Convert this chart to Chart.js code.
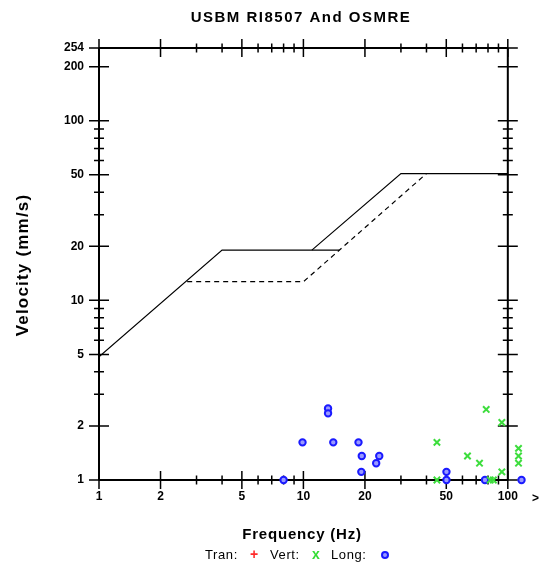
<!DOCTYPE html>
<html>
<head>
<meta charset="utf-8">
<script src="https://cdn.jsdelivr.net/npm/chart.js@4.4.0/dist/chart.umd.min.js"></script>
<style>
  html, body { margin: 0; padding: 0; background: #fff; }
  #cntr { position: relative; width: 540px; height: 567px; }
</style>
</head>
<body>
<div id="cntr"><canvas id="myChart" width="540" height="567"></canvas></div>
<script>
// Limites USBM RI8507 y OSMRE (frecuencia Hz, velocidad mm/s)
const limite1Freq = [1, 4, 15];
const limite1Vel = [4.85, 19.05, 19.05];
const limite2Freq = [11, 30, 100];
const limite2Vel = [19.05, 50.8, 50.8];
const limiteYesoFreq = [2.7, 10, 40];
const limiteYesoVel = [12.7, 12.7, 50.8];

// Registros medidos
const tranFreq = [];
const tranVel = [];
const vertFreq = [112.8, 112.8, 112.8, 45, 45, 63.5, 72.7, 78.4, 82, 85, 93.5, 93.5];
const vertVel = [1.5, 1.36, 1.24, 1.62, 1.0, 1.36, 1.24, 2.47, 1.0, 1.0, 2.09, 1.11];
const longFreq = [116.7, 8, 9.9, 13.2, 13.2, 14.0, 18.6, 19.3, 19.2, 22.7, 23.5, 50.1, 50.1, 77.3];
const longVel = [1.0, 1.0, 1.62, 2.5, 2.35, 1.62, 1.62, 1.36, 1.11, 1.24, 1.36, 1.11, 1.0, 1.0];

// Marcas de los ejes
const ejeXMayor = [1, 2, 5, 10, 20, 50, 100];
const ejeXMenor = [3, 4, 6, 7, 8, 9, 30, 40, 60, 70, 80, 90];
const ejeYMayor = [1, 2, 5, 10, 20, 50, 100, 200, 254];
const ejeYMenor = [3, 4, 6, 7, 8, 9, 30, 40, 60, 70, 80, 90];

const titulo = 'USBM RI8507 And OSMRE';
const tituloX = 'Frequency (Hz)';
const tituloY = 'Velocity (mm/s)';

function puntos(xs, ys) {
  return xs.map((x, i) => ({ x: x, y: ys[i] }));
}

function linea(xs, ys, dash) {
  return {
    type: 'line',
    data: puntos(xs, ys),
    borderColor: '#000',
    borderWidth: 1.2,
    borderDash: dash,
    pointRadius: 0,
    tension: 0,
    fill: false
  };
}

const ejes = {
  id: 'ejes',
  beforeDatasetsDraw(chart) {
    const ctx = chart.ctx;
    const sx = chart.scales.x;
    const sy = chart.scales.y;
    const x0 = sx.getPixelForValue(1), x1 = sx.getPixelForValue(100);
    const y0 = sy.getPixelForValue(1), y1 = sy.getPixelForValue(254);
    ctx.save();
    ctx.strokeStyle = '#000';
    ctx.lineWidth = 2;
    ctx.beginPath();
    ctx.moveTo(x0, y1); ctx.lineTo(x0, y0);
    ctx.moveTo(x1, y1); ctx.lineTo(x1, y0);
    ctx.moveTo(x0, y0); ctx.lineTo(x1, y0);
    ctx.moveTo(x0, y1); ctx.lineTo(x1, y1);
    ctx.stroke();
    ctx.lineWidth = 1.5;
    ctx.beginPath();
    const marca = (valores, largo) => {
      valores.forEach(v => {
        const px = sx.getPixelForValue(v);
        ctx.moveTo(px, y0 - largo); ctx.lineTo(px, y0 + largo);
        ctx.moveTo(px, y1 - largo); ctx.lineTo(px, y1 + largo);
      });
    };
    const marcaY = (valores, largo) => {
      valores.forEach(v => {
        const py = sy.getPixelForValue(v);
        ctx.moveTo(x0 - largo, py); ctx.lineTo(x0 + largo, py);
        ctx.moveTo(x1 - largo, py); ctx.lineTo(x1 + largo, py);
      });
    };
    marca(ejeXMayor, 9);
    marca(ejeXMenor, 4.5);
    marcaY(ejeYMayor, 10);
    marcaY(ejeYMenor, 5);
    ctx.stroke();
    ctx.restore();
  },
  afterDraw(chart) {
    const ctx = chart.ctx;
    ctx.save();
    ctx.fillStyle = '#000';
    ctx.textBaseline = 'alphabetic';

    ctx.textAlign = 'center';
    ctx.font = 'bold 15px "Liberation Sans", Arial, sans-serif';
    ctx.letterSpacing = '1.5px';
    ctx.fillText(titulo, 301, 22);

    ctx.font = 'bold 15px "Liberation Sans", Arial, sans-serif';
    ctx.letterSpacing = '0.8px';
    ctx.fillText(tituloX, 302, 539);

    ctx.save();
    ctx.translate(28, 265);
    ctx.rotate(-Math.PI / 2);
    ctx.font = 'bold 17px "Liberation Sans", Arial, sans-serif';
    ctx.letterSpacing = '1.2px';
    ctx.fillText(tituloY, 0, 0);
    ctx.restore();

    ctx.textAlign = 'left';
    ctx.font = 'bold 12px "Liberation Sans", Arial, sans-serif';
    ctx.letterSpacing = '0px';
    ctx.fillText('>', 532, 502);

    // leyenda
    ctx.font = '13px "Liberation Sans", Arial, sans-serif';
    ctx.letterSpacing = '0.6px';
    ctx.fillText('Tran:', 205, 559);
    ctx.fillText('Vert:', 270, 559);
    ctx.fillText('Long:', 331, 559);
    ctx.font = 'bold 14px "Liberation Sans", Arial, sans-serif';
    ctx.fillStyle = '#ff2a2a';
    ctx.fillText('+', 250, 559);
    ctx.fillStyle = '#33dd33';
    ctx.font = 'bold 14px "Liberation Sans", Arial, sans-serif';
    ctx.fillText('x', 312, 559);
    ctx.strokeStyle = '#1a1aff';
    ctx.fillStyle = '#9999ff';
    ctx.lineWidth = 2;
    ctx.beginPath();
    ctx.arc(385, 555, 3, 0, Math.PI * 2);
    ctx.fill();
    ctx.stroke();
    ctx.restore();
  }
};

const ctx = document.getElementById('myChart');
new Chart(ctx, {
  type: 'scatter',
  data: {
    datasets: [
      linea(limite1Freq, limite1Vel, []),
      linea(limite2Freq, limite2Vel, []),
      linea(limiteYesoFreq, limiteYesoVel, [5, 4]),
      {
        label: 'Tran',
        data: puntos(tranFreq, tranVel),
        pointStyle: 'cross',
        pointRadius: 4,
        borderColor: '#ff2a2a',
        borderWidth: 1.5
      },
      {
        label: 'Vert',
        data: puntos(vertFreq, vertVel),
        pointStyle: 'crossRot',
        pointRadius: 4.5,
        borderColor: '#3ddd3d',
        borderWidth: 2,
        clip: false
      },
      {
        label: 'Long',
        data: puntos(longFreq, longVel),
        pointStyle: 'circle',
        pointRadius: 3.2,
        borderColor: '#1a1aff',
        backgroundColor: '#9999ff',
        borderWidth: 2,
        clip: false
      }
    ]
  },
  options: {
    responsive: false,
    animation: false,
    devicePixelRatio: 1,
    layout: { padding: { top: 48, left: 0, right: 16, bottom: 0 } },
    plugins: {
      legend: { display: false },
      tooltip: { enabled: false }
    },
    scales: {
      x: {
        type: 'logarithmic',
        min: 1,
        max: 120,
        afterFit: s => { s.height = 87; },
        afterBuildTicks: s => { s.ticks = ejeXMayor.map(v => ({ value: v })); },
        ticks: {
          callback: v => String(v),
          autoSkip: false,
          maxRotation: 0,
          padding: 9,
          color: '#000',
          font: { family: '"Liberation Sans", Arial, sans-serif', size: 12, weight: 'bold' }
        },
        grid: { display: false, drawTicks: false },
        border: { display: false }
      },
      y: {
        type: 'logarithmic',
        min: 1,
        max: 254,
        afterFit: s => { s.width = 99; },
        afterBuildTicks: s => { s.ticks = ejeYMayor.map(v => ({ value: v })); },
        ticks: {
          callback: v => String(v),
          autoSkip: false,
          padding: 15,
          color: '#000',
          font: { family: '"Liberation Sans", Arial, sans-serif', size: 12, weight: 'bold' }
        },
        grid: { display: false, drawTicks: false },
        border: { display: false }
      }
    }
  },
  plugins: [ejes]
});
</script>
</body>
</html>
